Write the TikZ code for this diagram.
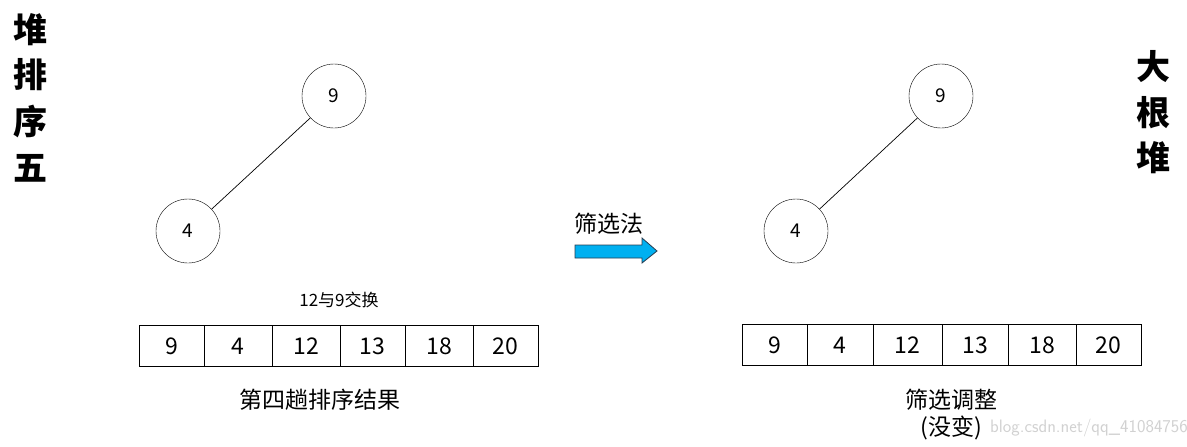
\documentclass[tikz,border=0pt]{standalone}
\usepackage{fontspec}
\setmainfont{Noto Sans CJK SC}
\begin{document}
\begin{tikzpicture}[x=1pt,y=-1pt,
  treenode/.style={draw,circle,minimum size=64pt,inner sep=0pt,font=\fontsize{19}{19}\selectfont},
  cell/.style={draw,minimum height=41pt,inner sep=0pt,font=\fontsize{23}{23}\selectfont},
  label/.style={inner sep=0pt,font=\fontsize{23}{23}\selectfont},
  title/.style={inner sep=0pt,font=\fontsize{34}{34}\selectfont\bfseries},
  edge/.style={draw,line width=0.7pt}]
\useasboundingbox (0,0) rectangle (1187,447);
% titles
\node[title] (t1) at (30,30) {堆};
\node[title] (t2) at (30,75) {排};
\node[title] (t3) at (30,121) {序};
\node[title] (t4) at (30,168) {五};
\node[title] (r1) at (1153,67) {大};
\node[title] (r2) at (1153,113) {根};
\node[title] (r3) at (1153,158) {堆};
% left tree
\node[treenode] (a9) at (334,96) {9};
\node[treenode] (a4) at (188,231) {4};
\draw[edge] (a9) -- (a4);
% right tree
\node[treenode] (b9) at (941,96) {9};
\node[treenode] (b4) at (796,231) {4};
\draw[edge] (b9) -- (b4);
% left array
\node[cell,minimum width=65pt] (l1) at (171.5,346) {9};
\node[cell,minimum width=68pt] (l2) at (238,346) {4};
\node[cell,minimum width=68pt] (l3) at (306,346) {12};
\node[cell,minimum width=65pt] (l4) at (372.5,346) {13};
\node[cell,minimum width=68pt] (l5) at (439,346) {18};
\node[cell,minimum width=65pt] (l6) at (505.5,346) {20};
% right array
\node[cell,minimum width=65pt] (m1) at (774.5,345) {9};
\node[cell,minimum width=66pt] (m2) at (840,345) {4};
\node[cell,minimum width=69pt] (m3) at (907.5,345) {12};
\node[cell,minimum width=66pt] (m4) at (975,345) {13};
\node[cell,minimum width=68pt] (m5) at (1042,345) {18};
\node[cell,minimum width=65pt] (m6) at (1108.5,345) {20};
% labels
\node[inner sep=0pt,font=\fontsize{17}{17}\selectfont] (swap) at (339,300) {12与9交换};
\node[label] (res) at (320,400) {第四趟排序结果};
\node[label] (adj) at (951,400) {筛选调整};
\node[label] (nc) at (951,428) {(没变)};
\node[label] (sx) at (609,224) {筛选法};
% arrow
\draw[fill={rgb,255:red,0;green,176;blue,240},draw={rgb,255:red,40;green,60;blue,80},line width=0.8pt]
  (575,245) -- (642,245) -- (642,238) -- (657,251) -- (642,263) -- (642,258) -- (575,258) -- cycle;
% watermark
\node[inner sep=0pt,anchor=west,text=black!18,font=\fontsize{18}{18}\selectfont\sffamily] (wm) at (990,428) {blog.csdn.net/qq\_41084756};
\end{tikzpicture}
\end{document}
